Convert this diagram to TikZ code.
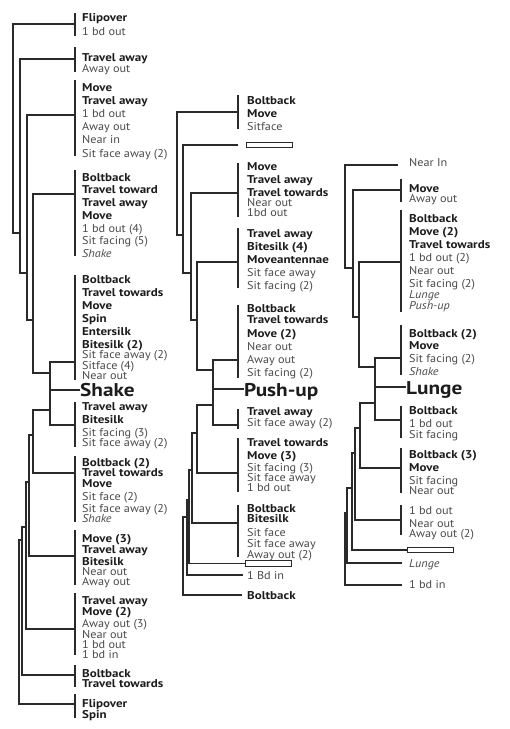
\documentclass[tikz,border=0pt]{standalone}
\usepackage{fontspec}
\setmainfont{PT Sans}[FakeStretch=1.08, BoldFeatures={FakeStretch=1.15}]
\usetikzlibrary{positioning}
\definecolor{ink}{HTML}{1C1C1C}
\definecolor{muted}{HTML}{4A4A4A}
\definecolor{wire}{HTML}{2A2A2A}
\tikzset{
  font=\fontsize{11.3}{12.7}\selectfont,
  %
  leaf/.style={anchor=north west, yshift=8pt, inner sep=0pt, align=left,
               text=muted, font=\fontsize{11.3}{#1}\selectfont},
  leaf/.default=12.7,
  big/.style={anchor=base west, inner sep=0pt, text=ink,
              font=\fontsize{18.5}{19}\selectfont\bfseries},
  %
  wire/.style={draw=wire, line width=1.1pt},
  brk/.style={draw=wire, line width=1.3pt},
  gapbox/.style={draw=wire, line width=1pt, inner sep=0pt, anchor=west,
                 minimum width=46pt, minimum height=5.5pt},
}
\newcommand{\hd}[1]{{\bfseries\color{ink}#1}}

\begin{document}
\begin{tikzpicture}[x=1pt, y=-1pt]
\useasboundingbox (0,0) rectangle (510,729);

% ------------------------------------------------------------------ Shake
\begin{scope}
  \node[leaf=14] (l1) at (82,21) {\hd{Flipover}\\1 bd out};
  \node[leaf=11] (l2) at (82,61) {\hd{Travel away}\\Away out};
  \node[leaf=13.2] (l3) at (82,91)
    {\hd{Move}\\\hd{Travel away}\\1 bd out\\Away out\\Near in\\Sit face away (2)};
  \node[leaf] (l4) at (82,181)
    {\hd{Boltback}\\\hd{Travel toward}\\\hd{Travel away}\\\hd{Move}\\
     1 bd out (4)\\Sit facing (5)\\\textit{Shake}};
  \node[leaf=13] (l5) at (82,283)
    {\hd{Boltback}\\\hd{Travel towards}\\\hd{Move}\\\hd{Spin}\\\hd{Entersilk}\\
     \hd{Bitesilk (2)}\\[-3pt]Sit face away (2)\\[-2pt]Sitface (4)\\[-3pt]Near out};
  \node[big] (shake) at (80,396) {Shake};
  \node[leaf=13] (l6) at (82,410)
    {\hd{Travel away}\\\hd{Bitesilk}\\Sit facing (3)\\[-3pt]Sit face away (2)};
  \node[leaf=11] (l7) at (82,466)
    {\hd{Boltback (2)}\\[-1pt]\hd{Travel towards}\\\hd{Move}\\[2pt]Sit face (2)\\[1pt]
     Sit face away (2)\\[-1pt]\textit{Shake}};
  \node[leaf=10.3] (l8) at (82,542)
    {\hd{Move (3)}\\\hd{Travel away}\\\hd{Bitesilk}\\Near out\\Away out};
  \node[leaf=10] (l9) at (82,604)
    {\hd{Travel away}\\\hd{Move (2)}\\Away out (3)\\Near out\\1 bd out\\1 bd in};
  \node[leaf=10.5] (l10) at (82,677) {\hd{Boltback}\\\hd{Travel towards}};
  \node[leaf=11] (l11) at (82,707) {\hd{Flipover}\\\hd{Spin}};

  \foreach \a/\b in {13/36, 47/72, 80/156, 170/256, 275/380, 402/447,
                     456/522, 530/585, 593/655, 665/687, 694/718}
    \draw[brk] (75,\a) -- (75,\b);

  \draw[wire] (75,24) -| (13,233) -- (20,233);
  \draw[wire] (75,59) -| (20,273) -- (27,273);
  \draw[wire] (75,115) -| (27,320) -- (33,320);
  \draw[wire] (75,194) -| (33,373) -- (50,373);
  \draw[wire] (75,362) -| (50,425) -- (75,425);
  \draw[wire] (50,390) -- (shake.west |- 0,390);
  \draw[wire] (50,410) -- (33,410) |- (75,473);
  \draw[wire] (33,435) -- (29,435) |- (75,556);
  \draw[wire] (29,482) -- (26,482) |- (75,629);
  \draw[wire] (26,527) -- (22,527) |- (75,675);
  \draw[wire] (22,540) -- (19,540) |- (75,704);
\end{scope}

% ---------------------------------------------------------------- Push-up
\begin{scope}
  \node[leaf=13] (m1) at (247,104) {\hd{Boltback}\\\hd{Move}\\Sitface};
  \node[gapbox] (gapa) at (246,145) {};
  \node[leaf=13] (m3) at (247,170)
    {\hd{Move}\\\hd{Travel away}\\\hd{Travel towards}\\[-3pt]Near out\\[-3pt]1bd out};
  \node[leaf=13] (m4) at (247,237)
    {\hd{Travel away}\\\hd{Bitesilk (4)}\\\hd{Moveantennae}\\Sit face away\\Sit facing (2)};
  \node[leaf=13] (m5) at (247,312)
    {\hd{Boltback}\\[-2pt]\hd{Travel towards}\\[1pt]\hd{Move (2)}\\Near out\\
     Away out\\Sit facing (2)};
  \node[big] (pushup) at (244,396) {Push-up};
  \node[leaf=11] (m6) at (247,415) {\hd{Travel away}\\Sit face away (2)};
  \node[leaf=13] (m7) at (247,446)
    {\hd{Travel towards}\\\hd{Move (3)}\\[-1pt]Sit facing (3)\\[-3pt]Sit face away\\[-3pt]1 bd out};
  \node[leaf=11] (m8) at (247,512)
    {\hd{Boltback}\\[-1pt]\hd{Bitesilk}\\[3pt]Sit face\\Sit face away\\Away out (2)};
  \node[gapbox] (gapb) at (245,563.5) {};
  \node[leaf] (m9) at (247,579) {1 Bd in};
  \node[leaf] (m10) at (247,599) {\hd{Boltback}};

  \foreach \a/\b in {95/129, 163/217, 228/288, 305/378, 409/429, 438/492, 505/557}
    \draw[brk] (238,\a) -- (238,\b);

  \draw[wire] (238,112) -| (177,235) -- (183,235);
  \draw[wire] (238,145) -| (183,273) -- (191,273);
  \draw[wire] (238,193) -| (191,320) -- (197,320);
  \draw[wire] (238,262) -| (197,370) -- (213,370);
  \draw[wire] (238,360) -| (213,425) -- (238,425);
  \draw[wire] (213,389) -- (pushup.west |- 0,389);
  \draw[wire] (213,405) -- (197,405) |- (238,473);
  \draw[wire] (197,433) -- (192,433) |- (238,523);
  \draw[wire] (192,470) -- (189,470) |- (gapb.west);
  \draw[wire] (189,500) -- (187,500) |- (243,575);
  \draw[wire] (187,517) -- (183,517) |- (242,595);
\end{scope}

% ------------------------------------------------------------------ Lunge
\begin{scope}
  \node[leaf] (r1) at (409,166) {Near In};
  \node[leaf=10] (r2) at (409,192) {\hd{Move}\\Away out};
  \node[leaf=13] (r3) at (409,222)
    {\hd{Boltback}\\\hd{Move (2)}\\\hd{Travel towards}\\1 bd out (2)\\Near out\\
     Sit facing (2)\\[-2pt]\textit{Lunge}\\[-2pt]\textit{Push-up}};
  \node[leaf] (r4) at (409,337)
    {\hd{Boltback (2)}\\\hd{Move}\\Sit facing (2)\\\textit{Shake}};
  \node[big] (lunge) at (406,394) {Lunge};
  \node[leaf=13] (r5) at (409,414) {\hd{Boltback}\\1 bd out\\[-2pt]Sit facing};
  \node[leaf=13] (r6) at (409,458)
    {\hd{Boltback (3)}\\\hd{Move}\\Sit facing\\[-3pt]Near out};
  \node[leaf=13] (r7) at (409,514) {1 bd out\\Near out\\[-3pt]Away out (2)};
  \node[gapbox] (gapc) at (407,550) {};
  \node[leaf] (r8) at (409,567) {\textit{Lunge}};
  \node[leaf] (r9) at (409,588) {1 bd in};

  \foreach \a/\b in {179/202, 210/312, 325/375, 406/438, 448/493, 505/535}
    \draw[brk] (401,\a) -- (401,\b);

  \draw[wire] (398,165) -| (345,268) -- (353,268);
  \draw[wire] (401,190) -| (353,317) -- (359,317);
  \draw[wire] (401,262) -| (359,367) -- (375,367);
  \draw[wire] (401,358) -| (375,420) -- (401,420);
  \draw[wire] (375,387) -- (lunge.west |- 0,387);
  \draw[wire] (375,403) -- (360,403) |- (401,468);
  \draw[wire] (360,428) -- (355,428) |- (401,520);
  \draw[wire] (355,453) -- (352,453) |- (gapc.west);
  \draw[wire] (352,488) -- (347,488) |- (402,563);
  \draw[wire] (347,513) -- (345,513) |- (402,585);
\end{scope}

\end{tikzpicture}
\end{document}
